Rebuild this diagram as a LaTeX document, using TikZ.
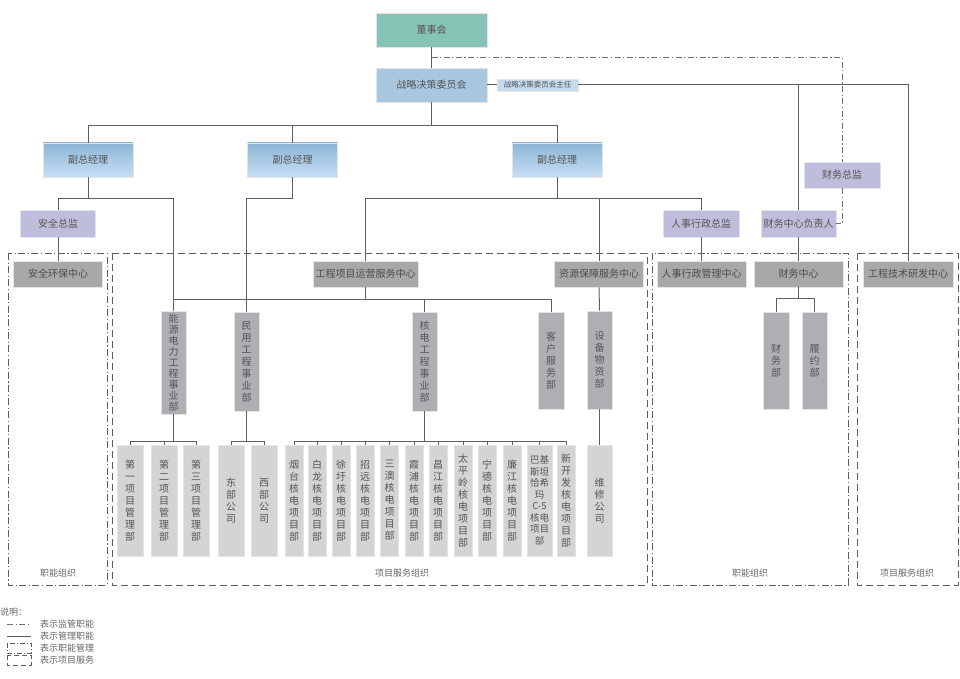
\documentclass[tikz,border=0pt]{standalone}
\usepackage{fontspec}
\setmainfont{Noto Sans CJK SC}
\usetikzlibrary{calc}
\definecolor{txt}{HTML}{555555}
\definecolor{labc}{HTML}{666666}
\definecolor{linec}{HTML}{5F5F5F}
\definecolor{edgec}{HTML}{E4E4E4}
\definecolor{teal}{HTML}{87C3B5}
\definecolor{zlblue}{HTML}{A9C8DF}
\definecolor{zrblue}{HTML}{C5DBEC}
\definecolor{fztop}{HTML}{8BB5D5}
\definecolor{fzbot}{HTML}{C7DFF5}
\definecolor{purp}{HTML}{BEBEDC}
\definecolor{cgray}{HTML}{A8A8A8}
\definecolor{rowone}{HTML}{ADAFB3}
\definecolor{rowtwo}{HTML}{D4D4D4}
\begin{document}
\begin{tikzpicture}[x=1pt,y=-1pt,
 bx/.style={draw=edgec, line width=0.8pt, inner sep=0pt, align=center, text=txt, font=\fontsize{10}{12}\selectfont},
 fzb/.style={bx, top color=fztop, bottom color=fzbot, minimum width=90pt, minimum height=34pt},
 pbx/.style={bx, fill=purp, minimum width=75pt, minimum height=27pt},
 cbx/.style={bx, fill=cgray, text=black!70, minimum width=89pt, minimum height=26pt},
 vone/.style={bx, fill=rowone, minimum width=25pt},
 vtwo/.style={bx, fill=rowtwo, minimum height=111pt},
 ln/.style={draw=linec, line width=1pt},
 supl/.style={draw=linec!90, line width=0.8pt, dash pattern=on 6pt off 2.5pt on 1.2pt off 2.5pt},
 frD/.style={draw=linec, line width=0.9pt, dash pattern=on 7pt off 4pt},
 frDD/.style={draw=linec, line width=0.9pt, dash pattern=on 7pt off 2.5pt on 1.2pt off 2.5pt},
 lab/.style={font=\fontsize{9}{11}\selectfont, text=labc, inner sep=0pt}]
\useasboundingbox (0,0) rectangle (960,679);

% frames
\draw[frDD] (8,253) rectangle (107,585);
\draw[frD] (112,253) rectangle (647,585);
\draw[frDD] (652,253) rectangle (848,585);
\draw[frD] (857,253) rectangle (958,585);
\node[lab] (l1) at (58,573) {职能组织};
\node[lab] (l2) at (402,573) {项目服务组织};
\node[lab] (l3) at (750,573) {职能组织};
\node[lab] (l4) at (907,573) {项目服务组织};

% top
\node[bx, fill=teal, minimum width=111pt, minimum height=34pt] (dsh) at (431.5,30) {董事会};
\node[bx, fill=zlblue, minimum width=111pt, minimum height=34pt] (zlw) at (431.5,85) {战略决策委员会};
\node[bx, fill=zrblue, minimum width=81pt, minimum height=12pt, font=\fontsize{7.5}{9}\selectfont] (zr) at (537.5,85) {战略决策委员会主任};
\node[fzb] (fz1) at (88,160) {副总经理};
\node[fzb] (fz2) at (292.5,160) {副总经理};
\node[fzb] (fz3) at (557,160) {副总经理};
\node[pbx] (aqzj) at (58,223.5) {安全总监};
\node[pbx, minimum width=76pt] (rszj) at (701,223.5) {人事行政总监};
\node[pbx] (cwfzr) at (798.5,223.5) {财务中心负责人};
\node[pbx, minimum width=76pt, minimum height=26pt] (cwzj) at (842,175) {财务总监};

% centers
\node[cbx] (aqhb) at (58,274) {安全环保中心};
\node[cbx, minimum width=105pt] (gcxm) at (365.5,274) {工程项目运营服务中心};
\node[cbx] (zybz) at (599,274) {资源保障服务中心};
\node[cbx] (rsgl) at (701.5,274) {人事行政管理中心};
\node[cbx] (cwzx) at (798.5,274) {财务中心};
\node[cbx, minimum width=90pt] (gcjs) at (908,274) {工程技术研发中心};

% row one
\node[vone, minimum height=103pt, font=\fontsize{10}{11}\selectfont] (nengyuan) at (173.5,362.5) {能\\源\\电\\力\\工\\程\\事\\业\\部};
\node[vone, minimum height=99pt] (minyong) at (246.5,361.5) {民\\用\\工\\程\\事\\业\\部};
\node[vone, minimum height=99pt] (hedian) at (424.5,361.5) {核\\电\\工\\程\\事\\业\\部};
\node[vone, minimum width=26pt, minimum height=97pt] (kehu) at (551,360.5) {客\\户\\服\\务\\部};
\node[vone, minimum height=98pt] (shebei) at (599.5,360) {设\\备\\物\\资\\部};
\node[vone, minimum width=26pt, minimum height=97pt] (caiwu) at (776,360.5) {财\\务\\部};
\node[vone, minimum height=97pt] (lvyue) at (814.5,360.5) {履\\约\\部};

% row two
\node[vtwo, minimum width=26pt] (p1) at (130,500.5) {第\\一\\项\\目\\管\\理\\部};
\node[vtwo, minimum width=26pt] (p2) at (164,500.5) {第\\二\\项\\目\\管\\理\\部};
\node[vtwo, minimum width=26pt] (p3) at (196,500.5) {第\\三\\项\\目\\管\\理\\部};
\node[vtwo, minimum width=26pt] (dong) at (231,500.5) {东\\部\\公\\司};
\node[vtwo, minimum width=26pt] (xi) at (264,500.5) {西\\部\\公\\司};
\node[vtwo, minimum width=18pt] (n1) at (294,500.5) {烟\\台\\核\\电\\项\\目\\部};
\node[vtwo, minimum width=18pt] (n2) at (317,500.5) {白\\龙\\核\\电\\项\\目\\部};
\node[vtwo, minimum width=18pt] (n3) at (341,500.5) {徐\\圩\\核\\电\\项\\目\\部};
\node[vtwo, minimum width=18pt] (n4) at (365,500.5) {招\\远\\核\\电\\项\\目\\部};
\node[vtwo, minimum width=18pt] (n5) at (389.5,500.5) {三\\澳\\核\\电\\项\\目\\部};
\node[vtwo, minimum width=18pt] (n6) at (414,500.5) {霞\\浦\\核\\电\\项\\目\\部};
\node[vtwo, minimum width=18pt] (n7) at (438,500.5) {昌\\江\\核\\电\\项\\目\\部};
\node[vtwo, minimum width=18pt] (n8) at (463,500.5) {太\\平\\岭\\核\\电\\项\\目\\部};
\node[vtwo, minimum width=18pt] (n9) at (487,500.5) {宁\\德\\核\\电\\项\\目\\部};
\node[vtwo, minimum width=18pt] (n10) at (512,500.5) {廉\\江\\核\\电\\项\\目\\部};
\node[vtwo, minimum width=25pt, font=\fontsize{9.5}{11.5}\selectfont] (n11) at (539.5,500.5) {巴基\\斯坦\\恰希\\玛\\C-5\\核电\\项目\\部};
\node[vtwo, minimum width=18pt] (n12) at (566,500.5) {新\\开\\发\\核\\电\\项\\目\\部};
\node[vtwo, minimum width=25pt] (weixiu) at (599.5,500.5) {维\\修\\公\\司};

% connectors
\draw[ln] (dsh.south) -- (zlw.north);
\draw[ln] (zlw.south) -- ++(0,23) coordinate (b1);
\draw[ln] (fz1.north) |- (b1) -| (fz3.north);
\draw[ln] (fz2.north) -- (fz2.north |- b1);
\draw[ln] (zlw.east) -- (zr.west);
\draw[ln] (zr.east) -| (gcjs.north);
\draw[ln] (cwfzr.north |- zr.east) -- (cwfzr.north);
\draw[supl] ($(dsh.south)!0.5!(zlw.north)$) -| (cwzj.north);
\draw[supl] (cwzj.south) |- (cwfzr.east);

\draw[ln] (fz1.south) -- ++(0,21) coordinate (c1);
\draw[ln] (aqzj.north) |- (c1) -| (nengyuan.north);
\draw[ln] (aqzj.south) -- (aqhb.north);
\draw[ln] (fz2.south) -- ++(0,21) -| (minyong.north);
\draw[ln] (fz3.south) -- ++(0,21) coordinate (c3);
\draw[ln] (gcxm.north) |- (c3) -| (rszj.north);
\draw[ln] (zybz.north) -- (zybz.north |- c3);
\draw[ln] (rszj.south) -- (rszj.south |- rsgl.north);
\draw[ln] (cwfzr.south) -- (cwzx.north);

\draw[ln] (gcxm.south) -- ++(0,12) coordinate (d1);
\draw[ln] (nengyuan.north |- d1) -- (kehu.north |- d1) -- (kehu.north);
\draw[ln] (hedian.north) -- (hedian.north |- d1);
\draw[ln] (zybz.south) -- (shebei.north);
\draw[ln] (shebei.south) -- (weixiu.north);
\draw[ln] (cwzx.south) -- ++(0,11) coordinate (d2);
\draw[ln] (caiwu.north) |- (d2) -| (lvyue.north);

\draw[ln] (nengyuan.south) -- ++(0,27) coordinate (e1);
\draw[ln] (p1.north) |- (e1) -| (p3.north);
\draw[ln] (p2.north) -- (p2.north |- e1);
\draw[ln] (minyong.south) -- ++(0,30) coordinate (e2);
\draw[ln] (dong.north) |- (e2) -| (xi.north);
\draw[ln] (hedian.south) -- ++(0,30) coordinate (e3);
\draw[ln] (n1.north) |- (e3) -| (n12.north);
\foreach \n in {n2,n3,n4,n5,n6,n7,n8,n9,n10,n11}{
  \draw[ln] (\n.north) -- (\n.north |- e3);
}

% legend
\node[lab, anchor=west] (sm) at (0,612) {说明：};
\coordinate (ga) at (7,624); \coordinate (gb) at (31,624);
\draw[supl] (ga) -- (gb);
\node[lab, anchor=west] (t1) at (40,624) {表示监管职能};
\coordinate (gc) at (7,636); \coordinate (gd) at (31,636);
\draw[ln, line width=0.8pt] (gc) -- (gd);
\node[lab, anchor=west] (t2) at (40,636) {表示管理职能};
\draw[frDD, line width=0.7pt, dash pattern=on 5pt off 2pt on 1pt off 2pt] (7,643) rectangle (31,653);
\node[lab, anchor=west] (t3) at (40,648) {表示职能管理};
\draw[frD, line width=0.7pt, dash pattern=on 5pt off 3pt] (7,655) rectangle (31,665);
\node[lab, anchor=west] (t4) at (40,660) {表示项目服务};
\end{tikzpicture}
\end{document}
